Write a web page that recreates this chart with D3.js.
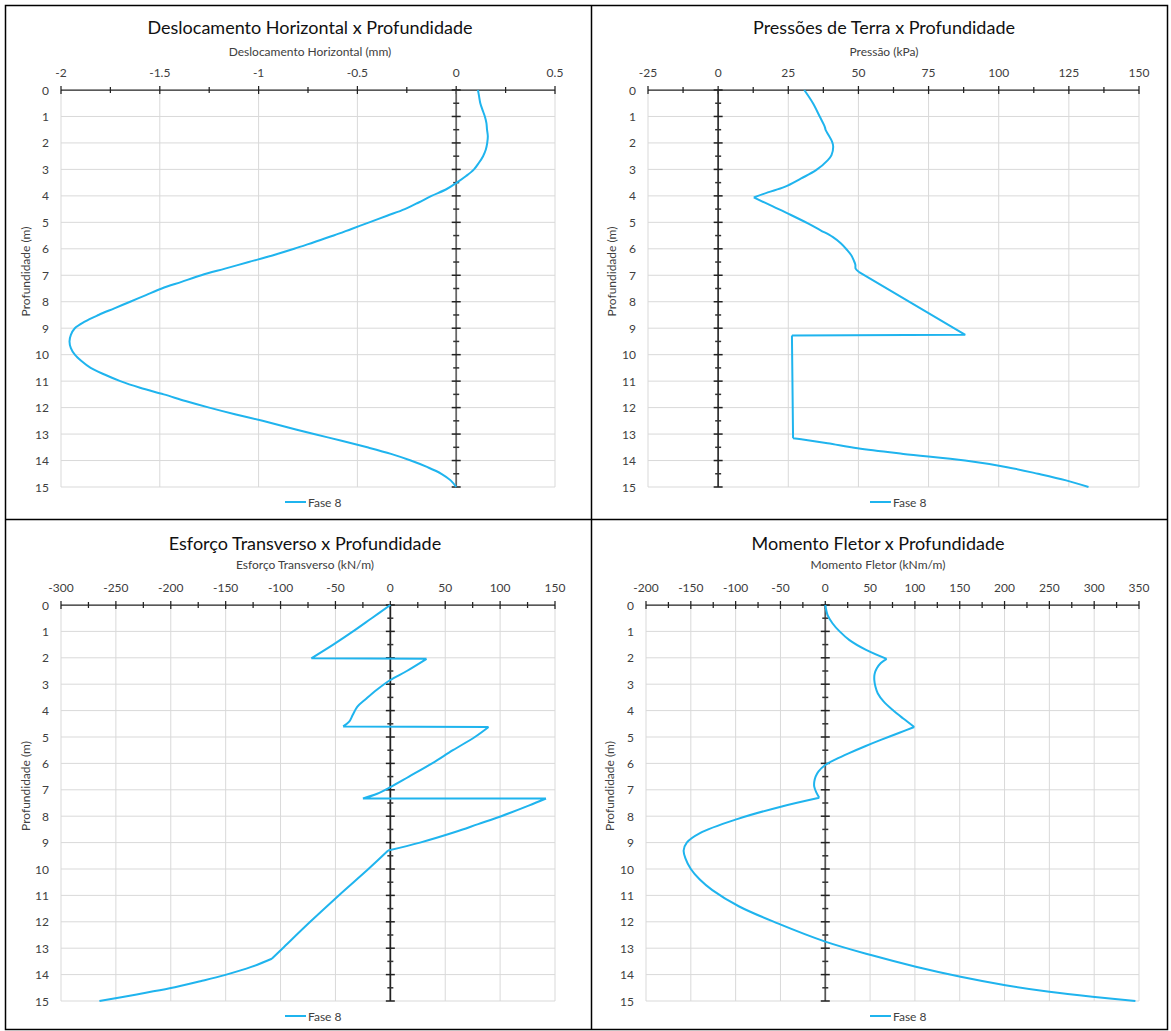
<!DOCTYPE html>
<html><head><meta charset="utf-8">
<script src="https://cdn.jsdelivr.net/npm/d3@7"></script>
<style>
body{margin:0;background:#fff}
svg{display:block}
text{font-family:Lato,'Open Sans',sans-serif;fill:#404040}
</style>
</head><body><svg id="c" width="1171" height="1031"></svg>
<script>
// ---------- DATA ----------
const depthTicks = [0,1,2,3,4,5,6,7,8,9,10,11,12,13,14,15];
const seriesName = "Fase 8";

const deslocTicks = [-2,-1.5,-1,-0.5,0,0.5];
const deslocDepth = [0,0.25,0.5,0.75,1.0,1.25,1.5,1.75,2.0,2.25,2.5,2.75,3.0,3.25,3.5,3.75,4.0,4.25,4.5,4.75,5.0,5.25,5.5,5.75,6.0,6.25,6.5,6.75,7.0,7.25,7.5,7.75,8.0,8.25,8.5,8.75,9.0,9.25,9.5,9.75,10.0,10.25,10.5,10.75,11.0,11.25,11.5,11.75,12.0,12.25,12.5,12.75,13.0,13.25,13.5,13.75,14.0,14.25,14.5,14.75,15];
const deslocValue = [0.11,0.116,0.122,0.133,0.145,0.153,0.156,0.16,0.157,0.15,0.136,0.115,0.09,0.05,0.003,-0.05,-0.125,-0.19,-0.26,-0.35,-0.44,-0.53,-0.62,-0.72,-0.82,-0.93,-1.05,-1.17,-1.29,-1.39,-1.49,-1.57,-1.65,-1.73,-1.81,-1.88,-1.93,-1.95,-1.957,-1.95,-1.93,-1.895,-1.85,-1.78,-1.70,-1.60,-1.48,-1.37,-1.25,-1.12,-0.98,-0.85,-0.72,-0.58,-0.45,-0.33,-0.23,-0.145,-0.075,-0.028,0];
const deslocBreaks = [];

const pressaoTicks = [-25,0,25,50,75,100,125,150];
const pressaoDepth = [0,0.5,1.0,1.39,1.51,1.64,1.95,2.14,2.46,2.65,3.03,3.34,3.66,3.87,4.06,4.4,4.7,5.04,5.3,5.55,5.8,6.05,6.25,6.43,6.6,6.75,6.87,9.25,9.28,13.16,13.2,13.35,13.54,13.75,14.0,14.25,14.5,14.75,15];
const pressaoValue = [30.7,33.8,36.2,38,38.3,39,40.6,41,40.4,39.1,34.9,29.6,23.7,17.7,12.7,19.5,25.5,32,36.5,40.8,43.8,46,47.5,48.3,48.9,49,50.1,88.1,26.3,26.7,29.6,39,49.7,66,88,103,114,124,132];
const pressaoBreaks = [4,14,26,27,28,29];

const esforcoTicks = [-300,-250,-200,-150,-100,-50,0,50,100,150];
const esforcoDepth = [0,0.5,1.0,1.5,2.02,2.04,2.5,2.84,3.2,3.55,3.85,4.17,4.42,4.6,4.62,5.0,5.5,6.0,6.5,6.9,7.15,7.33,7.33,7.6,8.0,8.3,8.6,9.0,9.3,10.0,11.0,12.0,13.0,13.4,13.7,14.02,14.25,14.52,14.75,15];
const esforcoValue = [0,-17,-34,-52,-72,33,15,0,-12,-22,-30,-34.3,-37.5,-43,89.5,77,57,38,17,0,-12,-25,141.8,126,101,80,59,27,-2,-20,-47,-73,-98,-108,-126,-151,-173,-201,-231,-265];
const esforcoBreaks = [4,5,13,14,21,22,28,33];

const momentoTicks = [-200,-150,-100,-50,0,50,100,150,200,250,300,350];
const momentoDepth = [0,0.38,0.69,1.0,1.33,1.7,2.04,2.2,2.4,2.62,2.84,3.1,3.34,3.65,3.97,4.3,4.62,4.85,5.11,5.35,5.62,5.85,6.06,6.3,6.5,6.7,6.88,7.1,7.3,7.63,8.11,8.64,9.0,9.3,9.6,10.0,10.4,10.8,11.42,12.06,12.75,13.26,13.7,14.08,14.4,14.65,14.84,15];
const momentoValue = [0,2.6,8,16,27,45.5,68.5,62,57.5,55,54.7,56,58.5,65,75,87,99.3,82,62,44.5,26,11.5,0,-7.5,-10.8,-12.3,-12.3,-10,-6.7,-48.5,-98.3,-139.8,-154.5,-158,-156,-150,-140,-126,-96,-53,0,51,101,151,201,250,298,346];
const momentoBreaks = [6,16,28];

// ---------- LAYOUT ----------
const panels = [
  {title:"Deslocamento Horizontal x Profundidade", axisTitle:"Deslocamento Horizontal (mm)", ticks:deslocTicks, depth:deslocDepth, value:deslocValue, breaks:deslocBreaks,
   left:61, right:555, top:90, bottom:487, cx:310, titleY:34, axisTitleY:56, tickY:77, yLabRight:49, yTitleX:30, legendX:285, legendY:502, vAxisColor:"#666"},
  {title:"Pressões de Terra x Profundidade", axisTitle:"Pressão (kPa)", ticks:pressaoTicks, depth:pressaoDepth, value:pressaoValue, breaks:pressaoBreaks,
   left:648, right:1139, top:90, bottom:487, cx:884, titleY:34, axisTitleY:56, tickY:77, yLabRight:636, yTitleX:616, legendX:870, legendY:502, vAxisColor:"#333"},
  {title:"Esforço Transverso x Profundidade", axisTitle:"Esforço Transverso (kN/m)", ticks:esforcoTicks, depth:esforcoDepth, value:esforcoValue, breaks:esforcoBreaks,
   left:61, right:555, top:605, bottom:1001, cx:305, titleY:550, axisTitleY:569, tickY:592, yLabRight:49, yTitleX:30, legendX:285, legendY:1016, vAxisColor:"#222"},
  {title:"Momento Fletor x Profundidade", axisTitle:"Momento Fletor (kNm/m)", ticks:momentoTicks, depth:momentoDepth, value:momentoValue, breaks:momentoBreaks,
   left:646, right:1139, top:605, bottom:1001, cx:878, titleY:550, axisTitleY:569, tickY:592, yLabRight:634, yTitleX:614, legendX:870, legendY:1016, vAxisColor:"#555"}
];

const svg = d3.select("#c");
const lineColor = "#1FB4EE";
const gridColor = "#d9d9d9";

// borders
const borderX = [5.5, 591.5, 1167.5], borderY = [5.5, 519.5, 1029.5];
svg.append("rect").attr("x",borderX[0]).attr("y",borderY[0]).attr("width",borderX[2]-borderX[0]).attr("height",borderY[2]-borderY[0])
  .attr("fill","none").attr("stroke","#000").attr("stroke-width",1.5);
svg.append("line").attr("x1",borderX[1]).attr("x2",borderX[1]).attr("y1",borderY[0]).attr("y2",borderY[2]).attr("stroke","#000").attr("stroke-width",1.5);
svg.append("line").attr("x1",borderX[0]).attr("x2",borderX[2]).attr("y1",borderY[1]).attr("y2",borderY[1]).attr("stroke","#000").attr("stroke-width",1.5);

panels.forEach(p => {
  const t = p.ticks;
  const x = d3.scaleLinear().domain([t[0], t[t.length-1]]).range([p.left, p.right]);
  const y = d3.scaleLinear().domain([0, 15]).range([p.top, p.bottom]);
  const g = svg.append("g");

  // gridlines
  g.selectAll(".vg").data(t).enter().append("line")
    .attr("x1", d=>x(d)).attr("x2", d=>x(d)).attr("y1", y(0)).attr("y2", y(15))
    .attr("stroke", gridColor).attr("stroke-width", 1);
  g.selectAll(".hg").data(depthTicks.slice(1)).enter().append("line")
    .attr("x1", p.left).attr("x2", p.right).attr("y1", d=>y(d)).attr("y2", d=>y(d))
    .attr("stroke", gridColor).attr("stroke-width", 1);

  // titles
  g.append("text").attr("x", p.cx).attr("y", p.titleY).attr("text-anchor","middle")
    .style("font-size","18px").style("fill","#111").text(p.title);
  g.append("text").attr("x", p.cx).attr("y", p.axisTitleY).attr("text-anchor","middle")
    .style("font-size","12px").text(p.axisTitle);

  // x tick labels
  g.selectAll(".xl").data(t).enter().append("text")
    .attr("x", d=>x(d)).attr("y", p.tickY).attr("text-anchor","middle")
    .style("font-size","12px").text(d=>String(d));
  // y tick labels
  g.selectAll(".yl").data(depthTicks).enter().append("text")
    .attr("x", p.yLabRight).attr("y", d=>y(d)+4.5).attr("text-anchor","end")
    .style("font-size","12px").text(d=>String(d));
  // y title
  g.append("text").attr("transform", `translate(${p.yTitleX},${(p.top+p.bottom)/2-17}) rotate(-90)`)
    .attr("text-anchor","middle").style("font-size","12px").text("Profundidade (m)");

  // top axis line with cross ticks
  g.append("line").attr("x1",p.left).attr("x2",p.right).attr("y1",y(0)).attr("y2",y(0)).attr("stroke","#222").attr("stroke-width",1.25);
  const minorX = t.slice(0,-1).map((d,i)=> (d+t[i+1])/2);
  g.selectAll(".xt").data(t).enter().append("line")
    .attr("x1",d=>x(d)).attr("x2",d=>x(d)).attr("y1",y(0)-4).attr("y2",y(0)+4).attr("stroke","#222").attr("stroke-width",1.25);
  g.selectAll(".xm").data(minorX).enter().append("line")
    .attr("x1",d=>x(d)).attr("x2",d=>x(d)).attr("y1",y(0)-3).attr("y2",y(0)+3).attr("stroke","#222").attr("stroke-width",1.25);

  // vertical axis at value 0
  const x0 = x(0);
  g.append("line").attr("x1",x0).attr("x2",x0).attr("y1",y(0)).attr("y2",y(15)).attr("stroke",p.vAxisColor).attr("stroke-width",1.75);
  g.selectAll(".yt").data(depthTicks).enter().append("line")
    .attr("x1",x0-4.5).attr("x2",x0+4.5).attr("y1",d=>y(d)).attr("y2",d=>y(d)).attr("stroke","#222").attr("stroke-width",1.5);
  g.selectAll(".ym").data(depthTicks.slice(0,-1).map(d=>d+0.5)).enter().append("line")
    .attr("x1",x0-3).attr("x2",x0+3).attr("y1",d=>y(d)).attr("y2",d=>y(d)).attr("stroke","#333").attr("stroke-width",1.5);

  // series line: smooth segments between kink points
  const pts = p.depth.map((d,i)=>[p.value[i], d]);
  const cuts = [0, ...p.breaks, pts.length-1];
  const segs = [];
  for (let k=0;k<cuts.length-1;k++) segs.push(pts.slice(cuts[k], cuts[k+1]+1));
  const lineGen = d3.line().x(d=>x(d[0])).y(d=>y(d[1])).curve(d3.curveCatmullRom.alpha(0.5));
  const dStr = segs.map(s => lineGen(s)).join("");
  g.append("path").attr("d", dStr)
    .attr("fill","none").attr("stroke",lineColor).attr("stroke-width",2).attr("stroke-linejoin","round");

  // legend
  g.append("line").attr("x1",p.legendX).attr("x2",p.legendX+21).attr("y1",p.legendY).attr("y2",p.legendY)
    .attr("stroke",lineColor).attr("stroke-width",2);
  g.append("text").attr("x",p.legendX+23).attr("y",p.legendY+4.5).style("font-size","12px").text(seriesName);
});
</script>
</body></html>
